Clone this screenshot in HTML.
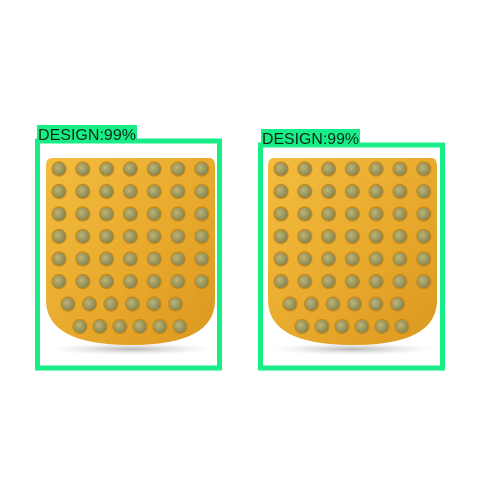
<!DOCTYPE html>
<html><head><meta charset="utf-8"><style>
html,body{margin:0;padding:0;background:#fff;width:480px;height:480px;overflow:hidden}
svg{display:block}
text{font-family:"Liberation Sans",sans-serif}
</style></head><body>
<svg id="s" width="480" height="480" viewBox="0 0 480 480">
<defs>
<linearGradient id="gold" x1="0" y1="0" x2="1" y2="1">
<stop offset="0" stop-color="#f3bd40"/><stop offset="0.5" stop-color="#e9ab2e"/><stop offset="1" stop-color="#dc981f"/>
</linearGradient>
<radialGradient id="gem" cx="0.4" cy="0.4" r="0.6">
<stop offset="0" stop-color="#bdb577"/><stop offset="1" stop-color="#85834e"/>
</radialGradient>
<radialGradient id="shadow" cx="0.5" cy="0.5" r="0.5">
<stop offset="0" stop-color="#999" stop-opacity="0.7"/><stop offset="1" stop-color="#ccc" stop-opacity="0"/>
</radialGradient>
</defs>
<g id="e1"></g>
<g id="e2"></g>
<rect x="37.5" y="141" width="182" height="227" fill="none" stroke="#18ee88" stroke-width="5"/>
<rect x="37" y="125" width="100" height="18" fill="#18ee88"/>
<text x="38" y="140" font-size="16" textLength="98" lengthAdjust="spacingAndGlyphs" fill="#0a2a14">DESIGN:99%</text>
<rect x="260.5" y="145" width="182" height="223" fill="none" stroke="#18ee88" stroke-width="5"/>
<rect x="261" y="129" width="99" height="18" fill="#18ee88"/>
<text x="262" y="144" font-size="16" textLength="97" lengthAdjust="spacingAndGlyphs" fill="#0a2a14">DESIGN:99%</text>
</svg>
<script>
const NS='http://www.w3.org/2000/svg';
function mk(t,a,p){const e=document.createElementNS(NS,t);for(const k in a)e.setAttribute(k,a[k]);p.appendChild(e);return e;}
function earring(g,x0){
  const x1=x0+169,y0=158,yb=300,y1=345;
  const sh=mk('ellipse',{cx:x0+85,cy:349,rx:82,ry:6,fill:'url(#shadow)'},g);
  
  
  const body=mk('path',{d:`M${x0+6},${y0} L${x1-6},${y0} Q${x1},${y0} ${x1},${y0+8} L${x1},${yb} Q${x1},${y1} ${x0+85},${y1} Q${x0},${y1} ${x0},${yb} L${x0},${y0+8} Q${x0},${y0} ${x0+6},${y0} Z`,fill:'url(#gold)'},g);
  
  
  for(let r=0;r<8;r++){for(let c=0;c<7;c++){
    let cx=x0+13+c*23.8, cy=y0+11+r*22.5;
    if(r==6){cx=x0+22+c*21.5; if(c==6)continue;}
    if(r==7){cx=x0+34+c*20; if(c>5)continue;}
    const gm=mk('circle',{cx:cx,cy:cy,r:7,fill:'url(#gem)',stroke:'#c98a1a','stroke-width':1.2},g);
    
    
  }}
}
earring(document.getElementById('e1'),46);
earring(document.getElementById('e2'),268);
</script>
</body></html>
